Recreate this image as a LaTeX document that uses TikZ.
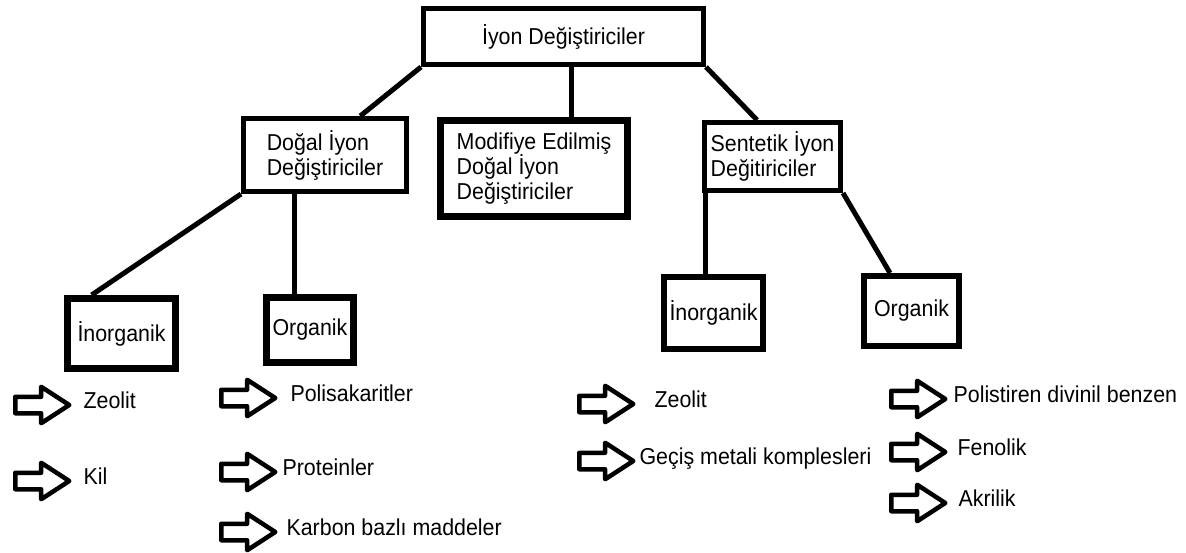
\documentclass[tikz,border=0pt]{standalone}
\usepackage{fontspec}
\setmainfont{Liberation Sans}[FakeStretch=0.93]
\usetikzlibrary{calc, positioning, shapes.arrows}

\tikzset{
	ionbox/.style={draw, line width=5pt, align=left, inner sep=0pt,
		font=\fontsize{23}{25}\selectfont},
	thickbox/.style={ionbox, line width=7pt},
	link/.style={line width=5pt},
	okarrow/.style={single arrow, draw, line width=4.5pt, line join=round,
		inner xsep=0pt, inner ysep=6pt, minimum height=54pt,
		single arrow head extend=10pt, single arrow tip angle=66},
	itemtext/.style={inner sep=0pt, font=\fontsize{23}{25}\selectfont,
		text height=0.72em, text depth=0pt}
}

\begin{document}
\begin{tikzpicture}[x=1pt,y=-1pt]
		\useasboundingbox (0,0) rectangle (1186,553);

		% iyon degistiriciler
		\node[ionbox, minimum width=280pt, minimum height=56pt] (iyon) at (563.5,36.5) {İyon Değiştiriciler};

		\node[ionbox, minimum width=163pt, minimum height=73pt] (dogal) at (325,155) {Doğal İyon\\Değiştiriciler};
		\node[thickbox, minimum width=187pt, minimum height=96pt] (modifiye) at (534,168.5) {Modifiye Edilmiş\\Doğal İyon\\Değiştiriciler};
		\node[ionbox, minimum width=136pt, minimum height=68pt] (sentetik) at (772.5,156.5) {Sentetik İyon\\Değitiriciler};

		\draw[link] (iyon.south west) -- ($(dogal.north west)!0.71!(dogal.north east)$);
		\draw[link] ($(iyon.south)+(7.5,0)$) coordinate (iyonm) -- (iyonm |- modifiye.north);
		\draw[link] (iyon.south east) -- ($(sentetik.north west)!0.39!(sentetik.north east)$);

		% dogal
		\node[thickbox, minimum width=108pt, minimum height=70pt] (inorgdogal) at (121.5,333.5) {İnorganik};
		\node[thickbox, minimum width=87pt, minimum height=65pt] (orgdogal) at (310,330) {Organik};

		\draw[link] (dogal.south west) -- ($(inorgdogal.north west)!0.24!(inorgdogal.north east)$);
		\draw[link] ($(orgdogal.north)+(-16,0)$) coordinate (orgdogalt) -- (orgdogalt |- dogal.south);

		\node[okarrow, anchor=tail] (zeolitdar) at (13,405) {};
		\node[itemtext, right=10pt of zeolitdar.tip] (zeolitd) {Zeolit};
		\node[okarrow, below=76pt of zeolitdar.tail, anchor=tail] (kilar) {};
		\node[itemtext, right=10pt of kilar.tip] (kil) {Kil};

		\node[okarrow, anchor=tail] (polisakar) at (219,398) {};
		\node[itemtext, right=11pt of polisakar.tip] (polisak) {Polisakaritler};
		\node[okarrow, below=74pt of polisakar.tail, anchor=tail] (proteinar) {};
		\node[itemtext, right=3pt of proteinar.tip] (protein) {Proteinler};
		\node[okarrow, below=60pt of proteinar.tail, anchor=tail] (karbonar) {};
		\node[itemtext, right=7pt of karbonar.tip] (karbon) {Karbon bazlı maddeler};

		% sentetik
		\node[ionbox, line width=6pt, minimum width=99pt, minimum height=72pt] (inorgsent) at (713.5,313) {İnorganik};
		\node[ionbox, line width=6pt, minimum width=95pt, minimum height=70pt] (orgsent) at (911.5,311) {Organik};

		\draw[link] ($(inorgsent.north)+(-8.5,0)$) coordinate (inorgsentt) -- (inorgsentt |- sentetik.south);
		\draw[link] (sentetik.south east) -- ($(orgsent.north)+(-21.5,0)$);

		\node[okarrow, anchor=tail] (zeolitsar) at (577,404) {};
		\node[itemtext, right=17pt of zeolitsar.tip] (zeolits) {Zeolit};
		\node[okarrow, below=57pt of zeolitsar.tail, anchor=tail] (gecisar) {};
		\node[itemtext, right=2pt of gecisar.tip] (gecis) {Geçiş metali komplesleri};

		\node[okarrow, anchor=tail] (polistirenar) at (889,399) {};
		\node[itemtext, right=4pt of polistirenar.tip] (polistiren) {Polistiren divinil benzen};
		\node[okarrow, below=53pt of polistirenar.tail, anchor=tail] (fenolikar) {};
		\node[itemtext, right=8pt of fenolikar.tip] (fenolik) {Fenolik};
		\node[okarrow, below=51pt of fenolikar.tail, anchor=tail] (akrilikar) {};
		\node[itemtext, right=9pt of akrilikar.tip] (akrilik) {Akrilik};

\end{tikzpicture}
\end{document}
